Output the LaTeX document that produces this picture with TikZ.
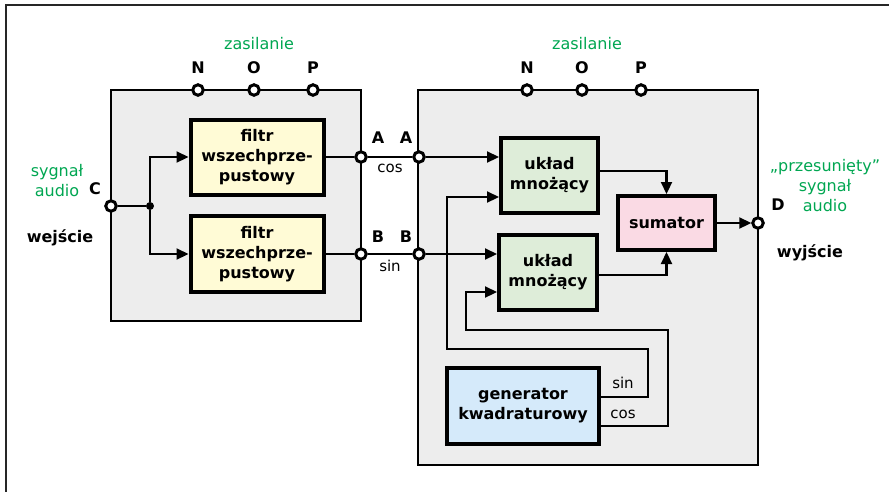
\documentclass[tikz,border=0pt]{standalone}
\usepackage{fontspec}
\setmainfont{DejaVu Sans}
\usetikzlibrary{arrows.meta}
\definecolor{zielony}{RGB}{0,166,81}
\definecolor{szary}{RGB}{237,237,237}
\definecolor{zolty}{RGB}{255,251,214}
\definecolor{seledyn}{RGB}{222,237,217}
\definecolor{rozowy}{RGB}{250,218,228}
\definecolor{blekit}{RGB}{213,234,250}
\newcommand{\duzy}{\fontsize{16}{20}\selectfont}
\begin{document}
\begin{tikzpicture}[x=1pt, y=-1pt,
  modul/.style={draw, line width=2.2pt, fill=szary},
  blok/.style={draw, line width=4pt, align=center, inner sep=0pt, font=\duzy\bfseries},
  zacisk/.style={circle, draw, line width=3pt, fill=white, inner sep=0pt, minimum size=10.5pt},
  kropka/.style={circle, fill=black, inner sep=0pt, minimum size=8pt},
  przewod/.style={line width=2.2pt},
  strzalka/.style={-{Triangle[length=12pt,width=11pt]}},
  napis/.style={font=\duzy\bfseries, inner sep=0pt},
  opis/.style={font=\fontsize{15}{18}\selectfont, inner sep=0pt},
  zielen/.style={font=\duzy, text=zielony, align=center, inner sep=0pt}]
\useasboundingbox (0,0) rectangle (889,491);
\draw [line width=2pt, black!85] (6,495) -- (6,5) -- (895,5);
\draw [modul] (111,90) rectangle (361,321);
\draw [modul] (418,90) rectangle (758,465);
\node [zielen] (zas1) at (259,44) {zasilanie};
\node [zielen] (zas2) at (587,44) {zasilanie};
\node [napis] (tN1) at (198,68) {N};
\node [napis] (tO1) at (254,68) {O};
\node [napis] (tP1) at (313,68) {P};
\node [napis] (tN2) at (527,68) {N};
\node [napis] (tO2) at (582,68) {O};
\node [napis] (tP2) at (641,68) {P};
\node [zacisk] (N1) at (198,90) {};
\node [zacisk] (O1) at (254,90) {};
\node [zacisk] (P1) at (313,90) {};
\node [zacisk] (N2) at (527,90) {};
\node [zacisk] (O2) at (582,90) {};
\node [zacisk] (P2) at (641,90) {};
\node [blok, fill=zolty, minimum width=133pt, minimum height=75pt] (f1) at (257,157) {filtr\\wszechprze-\\pustowy};
\node [blok, fill=zolty, minimum width=133pt, minimum height=76pt] (f2) at (257,254) {filtr\\wszechprze-\\pustowy};
\node [blok, fill=seledyn, minimum width=97pt, minimum height=75pt] (m1) at (549.5,175.5) {układ\\mnożący};
\node [blok, fill=seledyn, minimum width=98pt, minimum height=75pt] (m2) at (548,272.5) {układ\\mnożący};
\node [blok, fill=rozowy, minimum width=97pt, minimum height=54pt] (sum) at (666.5,223) {sumator};
\node [blok, fill=blekit, minimum width=152pt, minimum height=76pt] (gen) at (523,406) {generator\\kwadraturowy};
\node [zacisk] (C) at (111,206) {};
\node [kropka] (wezel) at (150,206) {};
\node [zacisk] (A1) at (361,157) {};
\node [zacisk] (A2) at (419,157) {};
\node [zacisk] (B1) at (361,254) {};
\node [zacisk] (B2) at (419,254) {};
\node [zacisk] (D) at (758,223) {};
\draw [przewod] (C) -- (wezel);
\draw [przewod, strzalka] (wezel) |- (f1.west);
\draw [przewod, strzalka] (wezel) |- (f2.west);
\draw [przewod] (f1.east) -- (A1);
\draw [przewod] (A1) -- (A2);
\draw [przewod] (f2.east) -- (B1);
\draw [przewod] (B1) -- (B2);
\draw [przewod, strzalka] (A2) -- (A2 -| m1.west);
\draw [przewod, strzalka] (B2) -- (B2 -| m2.west);
\draw [przewod, strzalka] ([yshift=4.5pt]m1.east) -| (sum.north);
\draw [przewod, strzalka] ([yshift=-2.5pt]m2.east) -| (sum.south);
\draw [przewod, strzalka] (sum.east) -- (D);
\draw [przewod, strzalka] ([yshift=9pt]gen.east) -- (648,397) -- (648,349) -- (447,349) |- ([yshift=-21.5pt]m1.west);
\draw [przewod, strzalka] ([yshift=-20pt]gen.east) -- (668,426) -- (668,330) -- (466,330) |- ([yshift=-19.5pt]m2.west);
\node [zielen] (wej) at (57,181) {sygnał\\audio};
\node [napis] (tC) at (95,189) {C};
\node [napis] (wejscie) at (60,238) {wejście};
\node [napis] (tA1) at (378,138) {A};
\node [napis] (tA2) at (406,138) {A};
\node [opis] (tcos) at (390,168) {cos};
\node [napis] (tB1) at (378,237) {B};
\node [napis] (tB2) at (406,237) {B};
\node [opis] (tsin) at (390,266) {sin};
\node [napis] (tD) at (778,205) {D};
\node [zielen] (wyj) at (825,186) {„przesunięty”\\sygnał\\audio};
\node [napis] (wyjscie) at (810,253) {wyjście};
\node [opis] (gsin) at (623,383) {sin};
\node [opis] (gcos) at (623,414) {cos};
\end{tikzpicture}
\end{document}
